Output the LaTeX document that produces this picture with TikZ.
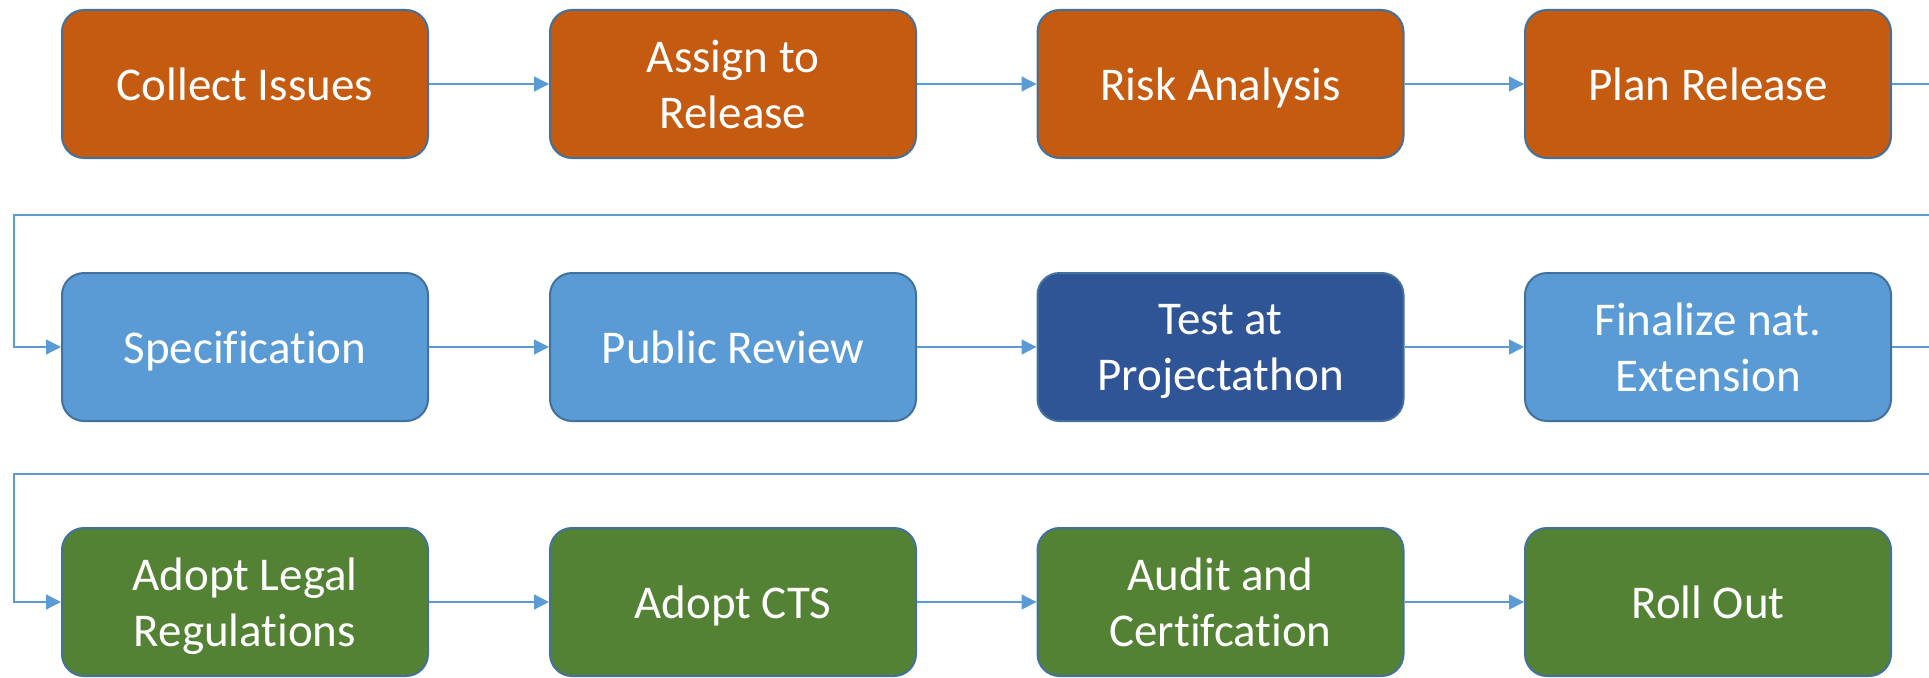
\documentclass[tikz,border=0pt]{standalone}
\usepackage{fontspec}
\setmainfont{Carlito}[Ligatures={NoCommon,NoContextual,NoRare}]
\usetikzlibrary{arrows.meta}
\definecolor{corange}{HTML}{C55A11}
\definecolor{clblue}{HTML}{5B9BD5}
\definecolor{cdblue}{HTML}{2F5597}
\definecolor{cgreen}{HTML}{548235}
\definecolor{cborder}{HTML}{41719C}
\definecolor{cline}{HTML}{5B9BD5}
\tikzset{
  stepbox/.style={rounded corners=22pt, draw=cborder, line width=2pt,
    minimum width=366pt, minimum height=148pt, inner sep=0pt,
    text depth=0pt,
    text=white, align=center, font=\fontsize{47}{56}\selectfont},
  orangebox/.style={stepbox, fill=corange},
  lbluebox/.style={stepbox, fill=clblue},
  dbluebox/.style={stepbox, fill=cdblue},
  greenbox/.style={stepbox, fill=cgreen},
  conn/.style={draw=cline, line width=1.3pt, -{Triangle[length=15pt,width=15pt]}}
}
\begin{document}
\begin{tikzpicture}[x=1pt,y=-1pt]
\useasboundingbox (0,0) rectangle (1929,677);
\clip (0,0) rectangle (1929,677);
% row 1
\node[orangebox] (a1) at (245,84) {Collect Issues};
\node[orangebox] (a2) at (733,84) {Assign to\\Release};
\node[orangebox] (a3) at (1220.5,84) {Risk Analysis};
\node[orangebox] (a4) at (1708,84) {Plan Release};
% row 2
\node[lbluebox] (b1) at (245,347) {Specification};
\node[lbluebox] (b2) at (733,347) {Public Review};
\node[dbluebox] (b3) at (1220.5,347) {Test at\\Projectathon};
\node[lbluebox] (b4) at (1708,347) {Finalize nat.\\Extension};
% row 3
\node[greenbox] (c1) at (245,602) {Adopt Legal\\Regulations};
\node[greenbox] (c2) at (733,602) {Adopt CTS};
\node[greenbox] (c3) at (1220.5,602) {Audit and\\Certifcation};
\node[greenbox] (c4) at (1708,602) {Roll Out};
% helper coordinates
\coordinate (r1) at (1945,84);
\coordinate (r1b) at (1945,215);
\coordinate (l1) at (14,215);
\coordinate (r2) at (1945,347);
\coordinate (r2b) at (1945,474);
\coordinate (l2) at (14,474);
% connectors
\draw[conn] (a1) -- (a2);
\draw[conn] (a2) -- (a3);
\draw[conn] (a3) -- (a4);
\draw[conn] (a4.east) -- (r1) -- (r1b) -- (l1) |- (b1.west);
\draw[conn] (b1) -- (b2);
\draw[conn] (b2) -- (b3);
\draw[conn] (b3) -- (b4);
\draw[conn] (b4.east) -- (r2) -- (r2b) -- (l2) |- (c1.west);
\draw[conn] (c1) -- (c2);
\draw[conn] (c2) -- (c3);
\draw[conn] (c3) -- (c4);
\end{tikzpicture}
\end{document}
